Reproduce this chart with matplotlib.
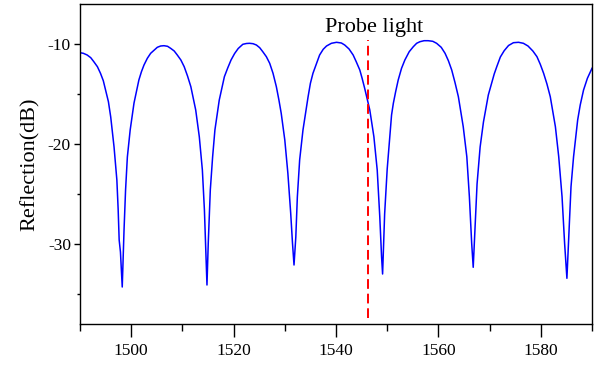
import matplotlib
matplotlib.use("Agg")
import matplotlib.pyplot as plt
from matplotlib.ticker import MultipleLocator

plt.rcParams['font.family'] = ['Liberation Serif', 'DejaVu Serif']

wavelength = [
    1490.0, 1490.65, 1491.4, 1492.1, 1492.7, 1493.4, 1494.0, 1494.55, 1495.0, 1495.55,
    1496.0, 1496.65, 1497.2, 1497.45, 1497.65, 1497.9, 1498.25, 1498.6, 1498.9, 1499.25,
    1499.8, 1500.55, 1501.5, 1502.0, 1502.5, 1503.15, 1503.8, 1504.5, 1505.1, 1505.75,
    1506.4, 1507.1, 1507.7, 1508.4, 1509.0, 1509.7, 1510.35, 1511.0, 1511.65, 1512.6,
    1513.3, 1513.9, 1514.3, 1514.6, 1514.8, 1515.05, 1515.45, 1515.9, 1516.35, 1517.2,
    1518.2, 1518.85, 1519.5, 1520.2, 1520.9, 1521.8, 1522.5, 1523.1, 1523.8, 1524.45,
    1525.1, 1525.7, 1526.4, 1527.05, 1527.7, 1528.35, 1528.85, 1529.3, 1530.0, 1530.6,
    1531.15, 1531.5, 1531.8, 1532.15, 1532.45, 1532.9, 1533.55, 1534.55, 1535.0, 1535.5,
    1536.2, 1536.8, 1537.5, 1538.15, 1539.1, 1540.1, 1541.05, 1541.7, 1542.55, 1543.35,
    1543.95, 1544.65, 1545.1, 1545.6, 1546.6, 1547.4, 1548.05, 1548.55, 1548.9, 1549.1,
    1549.5, 1550.0, 1550.5, 1550.85, 1551.2, 1551.65, 1552.15, 1552.8, 1553.45, 1554.3,
    1555.1, 1555.75, 1556.4, 1557.2, 1558.0, 1558.9, 1559.65, 1560.55, 1561.3, 1561.95,
    1562.6, 1563.25, 1563.9, 1564.85, 1565.55, 1566.05, 1566.5, 1566.8, 1567.15, 1567.55,
    1568.15, 1568.8, 1569.75, 1570.9, 1571.4, 1572.1, 1572.85, 1573.7, 1574.65, 1575.65,
    1576.6, 1577.5, 1578.45, 1579.25, 1579.9, 1580.55, 1581.2, 1581.85, 1582.85, 1583.5,
    1584.15, 1584.65, 1585.1, 1585.4, 1585.9, 1586.4, 1587.2, 1587.7, 1588.35, 1589.1,
    1590.0,
]
reflection_db = [
    -10.87, -10.93, -11.1, -11.37, -11.77, -12.27, -12.93, -13.67, -14.6, -15.77,
    -17.3, -20.3, -23.6, -26.5, -29.6, -30.8, -34.3, -28.6, -24.6, -21.3,
    -18.6, -15.9, -13.6, -12.77, -12.1, -11.43, -10.93, -10.6, -10.33, -10.2,
    -10.17, -10.23, -10.43, -10.7, -11.1, -11.6, -12.27, -13.2, -14.27, -16.6,
    -19.27, -22.6, -26.6, -31.3, -34.1, -29.9, -24.6, -21.3, -18.6, -15.6,
    -13.27, -12.4, -11.6, -10.95, -10.45, -10.03, -9.95, -9.93, -9.97, -10.1,
    -10.37, -10.77, -11.27, -11.93, -12.93, -14.27, -15.6, -16.93, -19.6, -22.93,
    -26.9, -29.9, -32.1, -29.3, -25.3, -21.6, -18.6, -15.27, -13.93, -12.93,
    -11.93, -11.1, -10.53, -10.2, -9.93, -9.83, -9.9, -10.1, -10.5, -11.1,
    -11.77, -12.6, -13.43, -14.43, -16.6, -19.27, -22.6, -27.27, -31.27, -33.0,
    -27.0, -22.5, -19.3, -17.1, -15.93, -14.77, -13.6, -12.43, -11.6, -10.77,
    -10.27, -9.93, -9.77, -9.67, -9.67, -9.73, -9.93, -10.33, -10.93, -11.67,
    -12.6, -13.87, -15.27, -18.27, -21.27, -25.27, -29.93, -32.33, -28.5, -24.0,
    -20.3, -17.8, -15.1, -13.0, -12.27, -11.3, -10.67, -10.15, -9.87, -9.83,
    -9.93, -10.2, -10.7, -11.27, -12.03, -12.93, -14.0, -15.27, -18.27, -21.27,
    -25.27, -29.93, -33.43, -29.93, -24.27, -21.27, -17.6, -16.1, -14.6, -13.43,
    -12.43,
]

probe_wavelength = 1546.3
probe_range = [-37.4, -9.6]
probe_label = "Probe light"
y_label = "Reflection(dB)"
x_ticks = [1500, 1520, 1540, 1560, 1580]
y_ticks = [-10, -20, -30]

fig = plt.figure(figsize=(6.02, 3.67), dpi=100)
ax = fig.add_axes([80 / 602, 1 - 324 / 367, 512 / 602, 320 / 367])

ax.plot(wavelength, reflection_db, color='#0000ff', lw=1.1)
ax.plot([probe_wavelength, probe_wavelength], probe_range, color='#ff0000',
        lw=1.4, linestyle=(0, (5, 2.5)))
ax.text(1547.5, -8.8, probe_label, ha='center', va='baseline', fontsize=16)

ax.set_xlim(1490, 1590)
ax.set_ylim(-38, -6)
ax.set_xticks(x_ticks)
ax.set_yticks(y_ticks)
ax.set_xticklabels([str(v) for v in x_ticks])
ax.set_yticklabels([str(v) for v in y_ticks])
ax.xaxis.set_minor_locator(MultipleLocator(10))
ax.yaxis.set_minor_locator(MultipleLocator(5))

ax.tick_params(axis='x', which='major', direction='out', length=9, width=1.0,
               labelsize=12.5, pad=5)
ax.tick_params(axis='x', which='minor', direction='out', length=4.7, width=1.0)
ax.tick_params(axis='y', which='major', direction='out', length=4.5, width=1.0,
               labelsize=12.5, pad=2)
ax.tick_params(axis='y', which='minor', direction='out', length=2.5, width=1.0)
ax.tick_params(top=False, right=False, which='both')

for s in ax.spines.values():
    s.set_linewidth(1.0)
    s.set_color('black')

ax.set_ylabel(y_label, fontsize=16, labelpad=6)

fig.savefig("out.png", dpi=100)
